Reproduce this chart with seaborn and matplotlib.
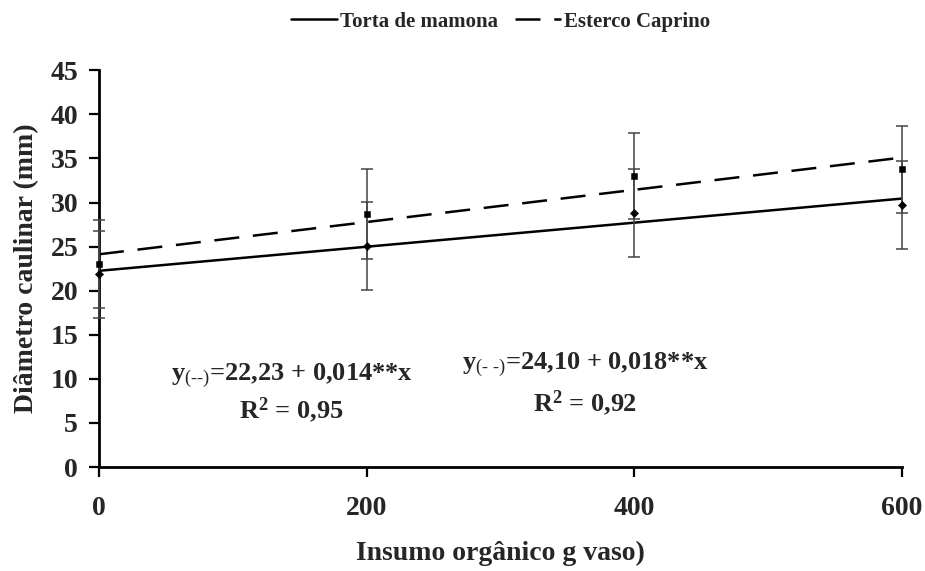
import numpy as np
import pandas as pd
import matplotlib
matplotlib.use("Agg")
import matplotlib.pyplot as plt
import seaborn as sns
from matplotlib.lines import Line2D

# ---- data ----
doses = [0, 200, 400, 600]
torta_mean = [21.85, 25.05, 28.8, 29.7]
torta_err = [4.95, 5.0, 5.0, 5.0]
caprino_mean = [23.0, 28.7, 33.0, 33.75]
caprino_err = [5.0, 5.05, 4.9, 4.95]
series_names = ["Torta de mamona", "Esterco Caprino"]
eq_torta = "22,23 + 0,014**x"
eq_caprino = "24,10 + 0,018**x"
r2_torta = "0,95"
r2_caprino = "0,92"
xticks = [0, 200, 400, 600]
yticks = list(range(0, 50, 5))

sns.set_style("white")
plt.rcParams["font.family"] = ["Liberation Serif", "DejaVu Serif"]
plt.rcParams["mathtext.fontset"] = "custom"
plt.rcParams["mathtext.rm"] = "Liberation Serif"
plt.rcParams["mathtext.bf"] = "Liberation Serif:bold"
plt.rcParams["mathtext.it"] = "Liberation Serif:italic"

df_t = pd.DataFrame({"x": doses, "y": torta_mean})
df_c = pd.DataFrame({"x": doses, "y": caprino_mean})

fig = plt.figure(figsize=(9.25, 5.71), dpi=100)
ax = fig.add_axes([0.107, 0.182, 0.868, 0.695])

dash = (0, (10, 5.5))
sns.regplot(data=df_t, x="x", y="y", ax=ax, ci=None, scatter=False,
            line_kws=dict(color="black", lw=1.8, clip_on=False))
sns.regplot(data=df_c, x="x", y="y", ax=ax, ci=None, scatter=False,
            line_kws=dict(color="black", lw=1.8, linestyle=dash, clip_on=False))

for m, e in [(torta_mean, torta_err), (caprino_mean, caprino_err)]:
    eb = ax.errorbar(doses, m, yerr=e, fmt="none", ecolor="#444444", elinewidth=1.1,
                     capsize=4, capthick=1.1, zorder=3)
    for art in list(eb.lines[1]) + list(eb.lines[2]):
        art.set_clip_on(False)

sns.scatterplot(data=df_t, x="x", y="y", ax=ax, marker="D", s=18, color="black",
                edgecolor="black", zorder=4, clip_on=False)
sns.scatterplot(data=df_c, x="x", y="y", ax=ax, marker="s", s=22, color="black",
                edgecolor="black", zorder=4, clip_on=False)

ax.set_xlim(0, 600)
ax.set_ylim(0, 45)
ax.set_xticks(xticks)
ax.set_yticks(yticks)
ax.set_xticklabels([str(v) for v in xticks], fontsize=20, fontweight="bold")
ax.set_yticklabels([str(v) for v in yticks], fontsize=20, fontweight="bold")
ax.tick_params(axis="both", direction="out", length=7, width=1.6, color="black",
               bottom=True, left=True)
ax.tick_params(axis="x", pad=14)
ax.tick_params(axis="y", pad=8)
for s in ["top", "right"]:
    ax.spines[s].set_visible(False)
for s in ["left", "bottom"]:
    ax.spines[s].set_color("black")
    ax.spines[s].set_linewidth(2.0)

ax.set_xlabel("Insumo orgânico g vaso)", fontsize=20, fontweight="bold", labelpad=14)
ax.set_ylabel("Diâmetro caulinar (mm)", fontsize=20, fontweight="bold", labelpad=8)

ax.text(144, 10.4, "y$_{\\mathrm{(\u2010\u2010)}}$=" + eq_torta, fontsize=19,
        fontweight="bold", ha="center", va="center")
ax.text(144, 6.5, r"R$^{\mathbf{2}}$ = " + r2_torta, fontsize=19, fontweight="bold",
        ha="center", va="center")
ax.text(363, 11.6, "y$_{\\mathrm{(\u2010\\ \u2010)}}$=" + eq_caprino, fontsize=19,
        fontweight="bold", ha="center", va="center")
ax.text(363, 7.3, r"R$^{\mathbf{2}}$ = " + r2_caprino, fontsize=19, fontweight="bold",
        ha="center", va="center")

handles = [Line2D([], [], color="black", lw=1.8),
           Line2D([], [], color="black", lw=1.8, linestyle=dash)]
fig.legend(handles, series_names, loc="center", bbox_to_anchor=(0.541, 0.962), ncol=2,
           frameon=False, prop=dict(family="Liberation Serif", weight="bold", size=15),
           handlelength=2.2, handletextpad=0.15, columnspacing=0.8)

fig.savefig("out.png", dpi=100)
